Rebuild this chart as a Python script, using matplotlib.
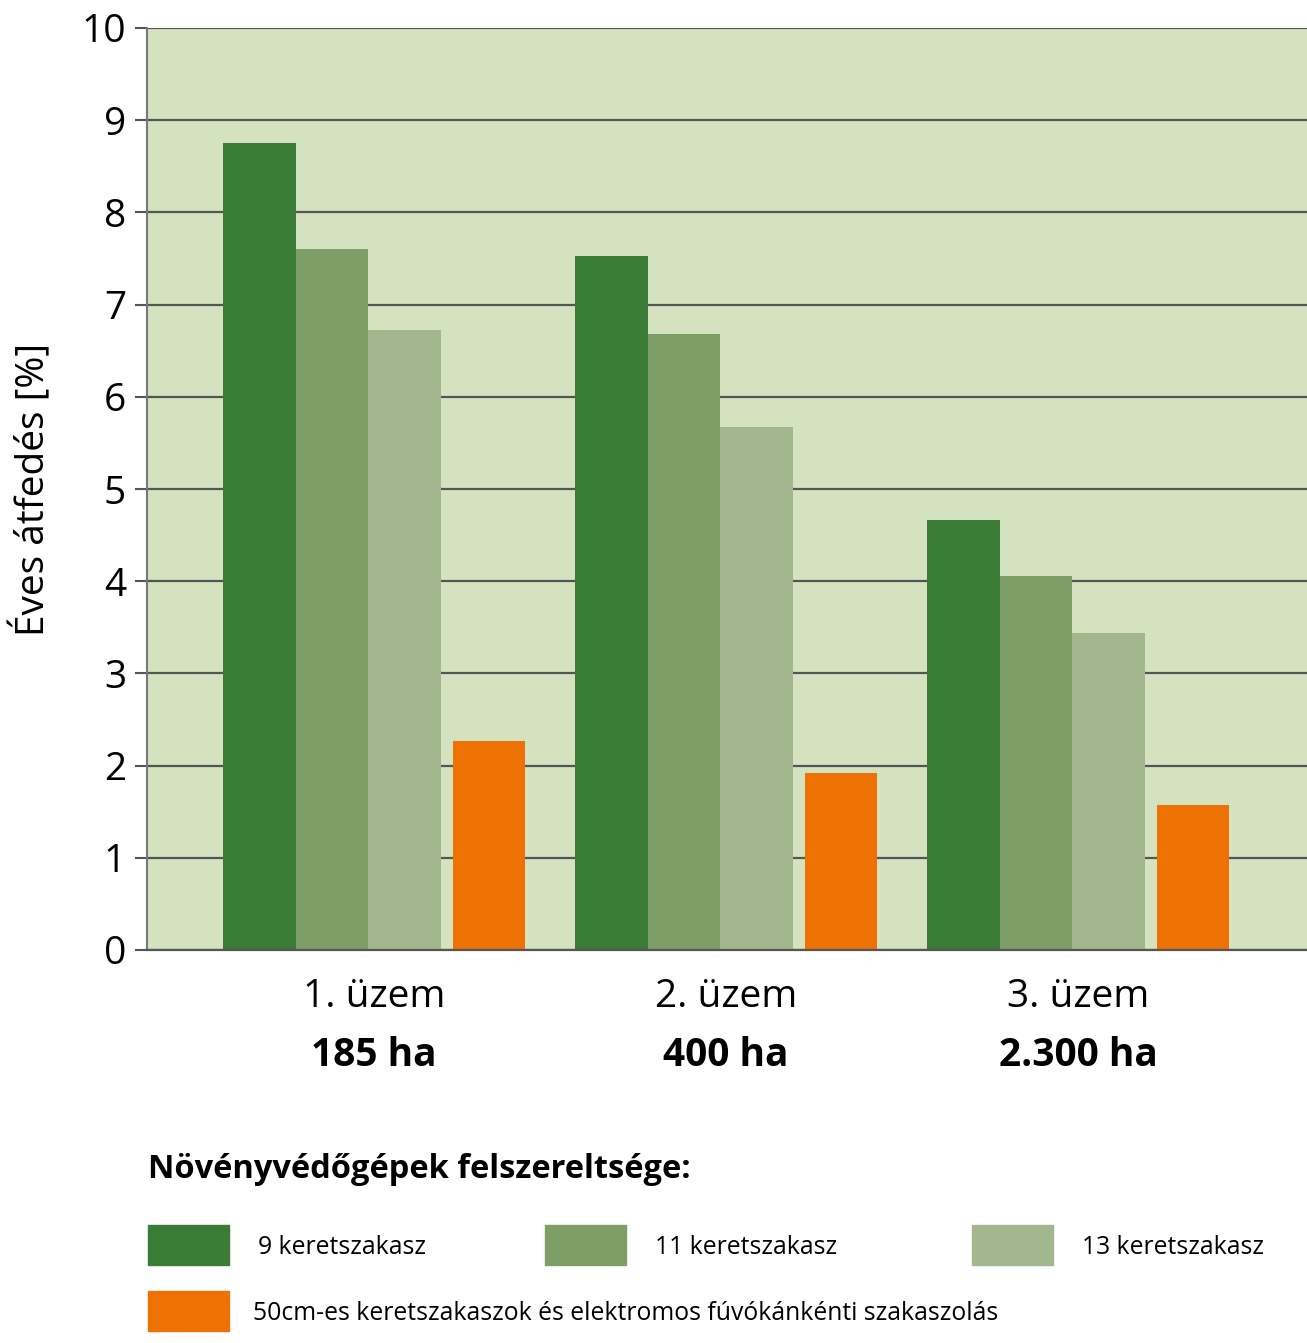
import matplotlib
matplotlib.use("Agg")
from matplotlib import pyplot as plt
from matplotlib.patches import Rectangle
from matplotlib.transforms import blended_transform_factory

plt.rcParams['font.family'] = ['Open Sans', 'DejaVu Sans']

# adatok
uzemek = ["1. üzem", "2. üzem", "3. üzem"]
teruletek = ["185 ha", "400 ha", "2.300 ha"]
sorozatok = ["9 keretszakasz", "11 keretszakasz", "13 keretszakasz",
             "50cm-es keretszakaszok és elektromos fúvókánkénti szakaszolás"]
ertekek = [
    [8.75, 7.53, 4.66],
    [7.60, 6.68, 4.06],
    [6.72, 5.67, 3.44],
    [2.27, 1.92, 1.57],
]
szinek = ["#3a7c35", "#7d9e66", "#a3b78e", "#ee7203"]
eltolas = [-0.325, -0.119, 0.087, 0.327]
szelesseg = 0.206

fig = plt.figure(figsize=(13.07, 13.43), dpi=100)
ax = fig.add_axes([147 / 1307, 393 / 1343, 1 - 147 / 1307, 922 / 1343])
ax.set_facecolor("#d5e2bf")

x = list(range(len(uzemek)))
for ser, vals, c, off in zip(sorozatok, ertekek, szinek, eltolas):
    ax.bar([i + off for i in x], vals, width=szelesseg, color=c, zorder=3)

ax.set_ylim(0, 10)
ax.set_xlim(-0.645, 2.651)
ax.set_yticks(range(11))
ax.yaxis.grid(True, color="#555555", linewidth=1.6, zorder=1)
ax.set_axisbelow(True)
ax.tick_params(axis="y", length=9, width=1.5, color="#555555", labelsize=28, pad=6)
ax.tick_params(axis="x", length=0, labelbottom=False)
ax.set_xticks(x)

for s in ["top", "right"]:
    ax.spines[s].set_visible(False)
ax.spines["left"].set_color("#777777")
ax.spines["left"].set_linewidth(1.5)
ax.spines["bottom"].set_color("#555555")
ax.spines["bottom"].set_linewidth(1.6)
ax.spines["bottom"].set_zorder(4)

ax.set_ylabel("Éves átfedés [%]", fontsize=28, labelpad=20)

trans = blended_transform_factory(ax.transData, ax.transAxes)
for i, (u, t) in enumerate(zip(uzemek, teruletek)):
    ax.text(i, -0.051, u, transform=trans, ha="center", va="center", fontsize=28)
    ax.text(i, -0.114, t, transform=trans, ha="center", va="center", fontsize=28,
            fontweight="bold")

# jelmagyarázat
W, H = 1307, 1343
fig.text(148 / W, 1 - 1170 / H, "Növényvédőgépek felszereltsége:", fontsize=23.5,
         fontweight="bold", ha="left", va="center")
poz = [(148, 1245), (545, 1245), (972, 1245), (148, 1311)]
szoveg_x = [258, 655, 1082, 253]
for (px, py), tx, lab, c in zip(poz, szoveg_x, sorozatok, szinek):
    fig.add_artist(Rectangle((px / W, 1 - (py + 20) / H), 81 / W, 40 / H,
                             transform=fig.transFigure, color=c))
    fig.text(tx / W, 1 - (py + 2) / H, lab, fontsize=17.8, ha="left", va="center")

fig.savefig("out.png", dpi=100)
